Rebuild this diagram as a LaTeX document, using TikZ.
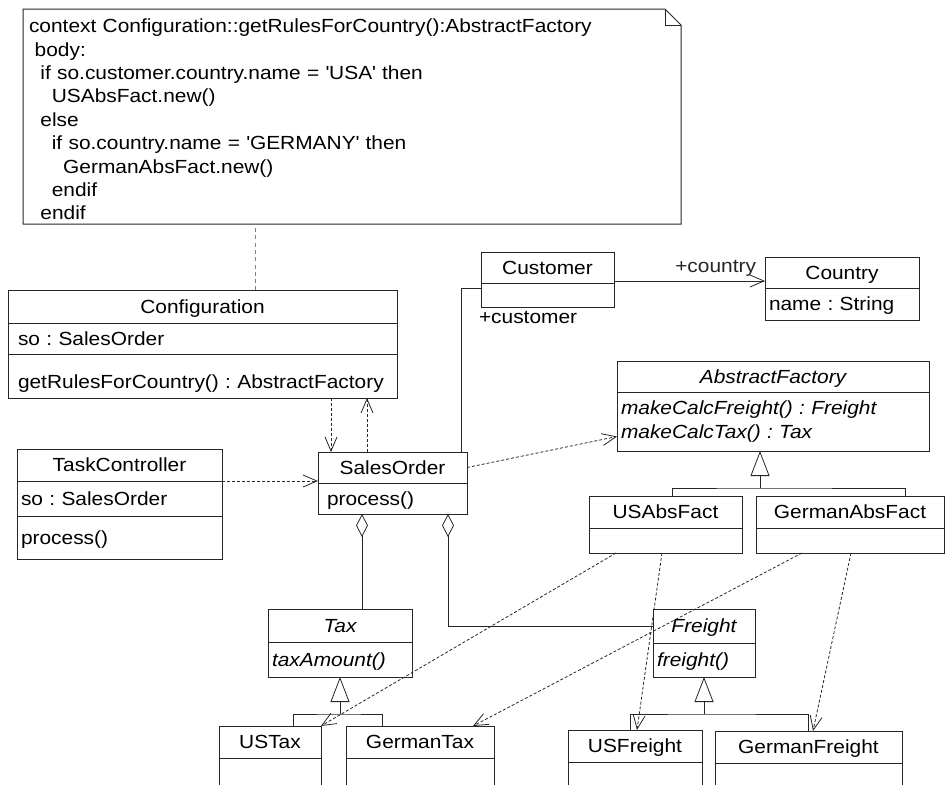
\documentclass[tikz,border=0pt]{standalone}
\usepackage{fontspec}
\setmainfont[FakeStretch=1.1]{Liberation Sans}
\usetikzlibrary{positioning}
\usetikzlibrary{arrows.meta}
\tikzstyle{nav} = [draw, line width=0.8pt, color=black!85, -{Straight Barb[length=14pt,width=12pt]}]
\tikzstyle{dep} = [nav, dash pattern=on 3pt off 2pt]
\tikzstyle{gen} = [draw, line width=0.8pt, color=black!85, -{Triangle[open,length=25pt,width=19pt]}]
\tikzstyle{aggr} = [draw, line width=0.8pt, color=black!85, {Diamond[open,length=23pt,width=12pt]}-]
\tikzstyle{plain} = [draw, line width=0.8pt, color=black!85]
\newcommand{\ind}[1]{\hspace*{#1\dimexpr 5.7pt\relax}}

\begin{document}
\begin{tikzpicture}[x=1pt,y=-1pt,outer sep=0pt,
font=\fontsize{19}{23.4}\selectfont\frenchspacing,
title/.style={
  draw=black!85,
  line width=1pt,
  anchor=north west,
  inner xsep=4pt,
  inner ysep=0pt,
  align=center,
  text height=13.6pt,
  text depth=0pt},
part/.style={title,anchor=center,align=left},
abstr/.style={font=\fontsize{19}{23.4}\selectfont\frenchspacing\itshape},
notebox/.style={anchor=north west, inner xsep=6pt, inner ysep=0pt,
  minimum width=658, minimum height=215, text width=646, align=left},
]
\useasboundingbox (0,0) rectangle (946,785);
\clip (0,0) rectangle (946,785);

% OCL note
\node[notebox, yshift=-3pt] (noteTxt) at (23,9) {context Configuration::getRulesForCountry():AbstractFactory\\
\ind1body:\\
\ind2if so.customer.country.name = \textquotesingle USA\textquotesingle{} then\\
\ind4USAbsFact.new()\\
\ind2else\\
\ind4if so.country.name = \textquotesingle GERMANY\textquotesingle{} then\\
\ind6GermanAbsFact.new()\\
\ind4endif\\
\ind2endif};
\coordinate (noteNW) at (23,9);
\coordinate (noteSE) at (681,224);
\draw[plain, line width=1pt] (noteNW) -- (noteNW -| 665,0) -- (noteSE |- 0,25) -- (noteSE) -- (noteNW |- noteSE) -- cycle;
\draw[plain] (noteNW -| 665,0) |- (noteSE |- 0,25);

% classes
\node[title, minimum width=389, minimum height=33] (confT) at (8,290) {Configuration};
\node[part, inner xsep=10pt, text width=369, minimum height=31, below=0pt of confT] (confA) {so : SalesOrder};
\node[part, inner xsep=10pt, text width=369, minimum height=44, text height=25pt, below=0pt of confA] (confO) {getRulesForCountry() : AbstractFactory};

\node[title, minimum width=133, minimum height=31] (custT) at (481,252) {Customer};
\node[part, text width=125, minimum height=24, below=0pt of custT] (custA) {};

\node[title, minimum width=154, minimum height=31] (ctryT) at (765,257) {Country};
\node[part, text width=146, minimum height=32, below=0pt of ctryT] (ctryA) {name : String};

\node[title, abstr, minimum width=312, minimum height=31] (absfT) at (617,361) {AbstractFactory};
\node[part, abstr, text width=304, minimum height=59, text height={}, text depth={}, below=0pt of absfT] (absfO) {makeCalcFreight() : Freight\\makeCalcTax() : Tax};

\node[title, minimum width=205, minimum height=32] (taskT) at (17,449) {TaskController};
\node[part, text width=197, minimum height=35, below=0pt of taskT] (taskA) {so : SalesOrder};
\node[part, text width=197, minimum height=43, below=0pt of taskA] (taskO) {process()};

\node[title, minimum width=149, minimum height=31] (salesT) at (318,452) {SalesOrder};
\node[part, inner xsep=9pt, text width=131, minimum height=31, below=0pt of salesT] (salesO) {process()};

\node[title, minimum width=153, minimum height=32] (usabsT) at (589,496) {USAbsFact};
\node[part, text width=145, minimum height=25, below=0pt of usabsT] (usabsA) {};
\node[title, minimum width=188, minimum height=32] (gerabsT) at (756,496) {GermanAbsFact};
\node[part, text width=180, minimum height=25, below=0pt of gerabsT] (gerabsA) {};

\node[title, abstr, minimum width=144, minimum height=33] (taxT) at (268,609) {Tax};
\node[part, abstr, text width=136, minimum height=35, below=0pt of taxT] (taxO) {taxAmount()};
\node[title, abstr, minimum width=102, minimum height=34] (frT) at (653,609) {Freight};
\node[part, abstr, text width=94, minimum height=34, below=0pt of frT] (frO) {freight()};

\node[title, minimum width=102, minimum height=32] (ustaxT) at (219,726) {USTax};
\node[part, text width=94, minimum height=40, below=0pt of ustaxT] (ustaxA) {};
\node[title, minimum width=148, minimum height=32] (gertaxT) at (346,726) {GermanTax};
\node[part, text width=140, minimum height=40, below=0pt of gertaxT] (gertaxA) {};
\node[title, minimum width=134, minimum height=32] (usfrT) at (568,730) {USFreight};
\node[part, text width=126, minimum height=40, below=0pt of usfrT] (usfrA) {};
\node[title, minimum width=187, minimum height=32] (gerfrT) at (715,731) {GermanFreight};
\node[part, text width=179, minimum height=40, below=0pt of gerfrT] (gerfrA) {};

% note link
\coordinate (noteLink) at ([xshift=53pt]confT.north);
\path [plain, dash pattern=on 4pt off 3.3pt, dash phase=-4pt, line width=1.2pt, color=black!50] (noteLink |- noteSE) -- (noteLink);

% Configuration <-> SalesOrder
\coordinate (sIn) at ([xshift=13pt]salesT.north west);
\coordinate (sOut) at ([xshift=49pt]salesT.north west);
\path [dep] (sIn |- confO.south) -- (sIn);
\path [dep] (sOut) -- (sOut |- confO.south);

% SalesOrder -- Customer -> Country
\coordinate (sCust) at ([xshift=-6pt]salesT.north east);
\path [plain] (sCust) |- ([yshift=7pt]custA.west);
\node[anchor=base west, inner sep=0pt] (custRole) at ([xshift=-2pt,yshift=-16pt]custA.south west) {+customer};
\coordinate (cCtry) at ([yshift=2pt]custT.south east);
\path [nav] (cCtry) -- (cCtry -| ctryT.west)
  node (ctryRole) [pos=1, anchor=base east, inner sep=0pt, xshift=-9pt, yshift=9pt] {+country};

% dependencies
\path [dep] (taskT.south east) -- (taskT.south east -| salesT.west);
\path [dep] (salesT.east) -- ([yshift=-15pt]absfO.west);
\path [dep] ([xshift=27pt]usabsA.south west) -- (ustaxT.north east);
\path [dep] ([xshift=73pt]usabsA.south west) -- ([xshift=69pt]usfrT.north west);
\path [dep] ([xshift=46pt]gerabsA.south west) -- ([xshift=127pt]gertaxT.north west);
\path [dep] ([xshift=95pt]gerabsA.south west) -- ([xshift=98pt]gerfrT.north west);

% aggregations
\coordinate (aggTax) at ([xshift=44pt]salesO.south west);
\coordinate (aggFr) at ([xshift=130pt]salesO.south west);
\path [aggr] (aggTax) -- (aggTax |- taxT.north);
\path [aggr] (aggFr) |- (frT.west);

% generalizations
\coordinate (afTip) at ([xshift=-13pt]absfO.south);
\coordinate (afJoin) at ([yshift=-37pt]afTip);
\path [gen] (afJoin) -- (afTip);
\path [plain] ([xshift=83pt]usabsT.north west) |- (afJoin) -| ([xshift=149pt]gerabsT.north west);

\coordinate (taxJoin) at ([yshift=-37pt]taxO.south);
\path [gen] (taxJoin) -- (taxO.south);
\path [plain] ([xshift=-28pt]ustaxT.north east) |- (taxJoin) -| ([xshift=36pt]gertaxT.north west);

\coordinate (frJoin) at ([yshift=-37pt]frO.south);
\path [gen] (frJoin) -- (frO.south);
\path [plain] ([xshift=62pt]usfrT.north west) |- (frJoin) -| ([xshift=93pt]gerfrT.north west);
\end{tikzpicture}
\end{document}
